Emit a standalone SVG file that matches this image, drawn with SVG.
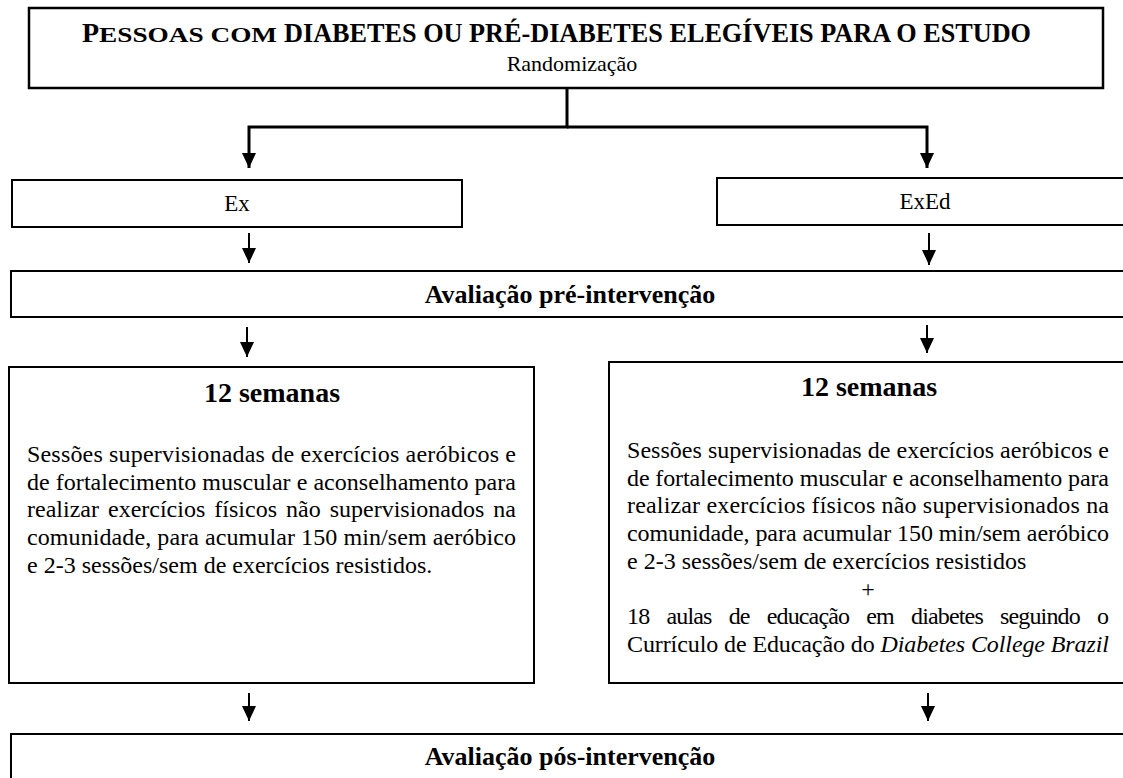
<svg xmlns="http://www.w3.org/2000/svg" width="1123" height="778" viewBox="0 0 1123 778">
<style>
.box{fill:#fff;stroke:#000;stroke-width:2}
.conn{fill:none;stroke:#000;stroke-width:2}
.thick{stroke-width:3}
</style>
<defs>
<marker id="ah" markerUnits="userSpaceOnUse" markerWidth="15" markerHeight="14" viewBox="0 0 15 14" refX="15" refY="7" orient="auto">
<path d="M0,0 L15,7 L0,14 z" fill="#000"/>
</marker>
</defs>
<rect width="1123" height="778" fill="#fff"/>

<g id="n-top">
<rect class="box" x="29" y="8" width="1074" height="80" style="stroke-width:2.5"/>
<text y="42" font-family="Liberation Serif, serif" font-weight="bold" fill="#000"><tspan x="82" font-size="28">P</tspan><tspan font-size="22" textLength="178" lengthAdjust="spacingAndGlyphs">ESSOAS COM</tspan><tspan x="284" font-size="28" textLength="747" lengthAdjust="spacingAndGlyphs">DIABETES OU PRÉ-DIABETES ELEGÍVEIS PARA O ESTUDO</tspan></text>
<text x="572" y="71" font-family="Liberation Serif, serif" font-size="22" text-anchor="middle" fill="#000">Randomização</text>
</g>

<g id="n-ex">
<rect class="box" x="12" y="180" width="450" height="47"/>
<text x="237" y="211" font-family="Liberation Serif, serif" font-size="23" text-anchor="middle" fill="#000">Ex</text>
</g>

<g id="n-exed">
<rect class="box" x="717" y="178" width="420" height="47"/>
<text x="925" y="209" font-family="Liberation Serif, serif" font-size="23" text-anchor="middle" fill="#000">ExEd</text>
</g>

<g id="n-pre">
<rect class="box" x="11" y="271" width="1125" height="46"/>
<text x="570" y="303" font-family="Liberation Serif, serif" font-size="26" font-weight="bold" text-anchor="middle" fill="#000">Avaliação pré-intervenção</text>
</g>

<g id="n-left" font-family="Liberation Serif, serif" fill="#000">
<rect class="box" x="9" y="367" width="525" height="316"/>
<text x="272" y="402" font-family="Liberation Serif, serif" font-size="28" font-weight="bold" text-anchor="middle">12 semanas</text>
<text font-family="Liberation Serif, serif" font-size="24" x="27" y="462" textLength="489" lengthAdjust="spacing">Sessões supervisionadas de exercícios aeróbicos e</text>
<text font-family="Liberation Serif, serif" font-size="24" x="27" y="489.7" textLength="489" lengthAdjust="spacing">de fortalecimento muscular e aconselhamento para</text>
<text font-family="Liberation Serif, serif" font-size="24" x="27" y="517.4" textLength="489" lengthAdjust="spacing" word-spacing="3">realizar exercícios físicos não supervisionados na</text>
<text font-family="Liberation Serif, serif" font-size="24" x="27" y="545.1" textLength="489" lengthAdjust="spacing">comunidade, para acumular 150 min/sem aeróbico</text>
<text font-family="Liberation Serif, serif" font-size="24" x="27" y="572.8">e 2-3 sessões/sem de exercícios resistidos.</text>
</g>

<g id="n-right" font-family="Liberation Serif, serif" fill="#000">
<rect class="box" x="609" y="362" width="530" height="321"/>
<text x="869" y="396" font-family="Liberation Serif, serif" font-size="28" font-weight="bold" text-anchor="middle">12 semanas</text>
<text font-family="Liberation Serif, serif" font-size="24" x="627" y="458" textLength="482" lengthAdjust="spacing">Sessões supervisionadas de exercícios aeróbicos e</text>
<text font-family="Liberation Serif, serif" font-size="24" x="627" y="485.7" textLength="482" lengthAdjust="spacing">de fortalecimento muscular e aconselhamento para</text>
<text font-family="Liberation Serif, serif" font-size="24" x="627" y="513.4" textLength="482" lengthAdjust="spacing">realizar exercícios físicos não supervisionados na</text>
<text font-family="Liberation Serif, serif" font-size="24" x="627" y="541.1" textLength="482" lengthAdjust="spacing">comunidade, para acumular 150 min/sem aeróbico</text>
<text font-family="Liberation Serif, serif" font-size="24" x="627" y="568.8">e 2-3 sessões/sem de exercícios resistidos</text>
<text font-family="Liberation Serif, serif" font-size="24" x="868" y="596.5" text-anchor="middle">+</text>
<text font-family="Liberation Serif, serif" font-size="24" x="627" y="624.2" word-spacing="12" textLength="482" lengthAdjust="spacing">18 aulas de educação em diabetes seguindo o</text>
<text font-family="Liberation Serif, serif" font-size="24" x="627" y="651.9" textLength="482" lengthAdjust="spacing">Currículo de Educação do <tspan font-style="italic">Diabetes College Brazil</tspan></text>
</g>

<g id="n-post">
<rect class="box" x="11" y="734" width="1125" height="60"/>
<text x="570" y="765" font-family="Liberation Serif, serif" font-size="26" font-weight="bold" text-anchor="middle" fill="#000">Avaliação pós-intervenção</text>
</g>

<g id="connectors">
<path class="conn thick" d="M567,88 V127 H249 V168" marker-end="url(#ah)"/>
<path class="conn thick" d="M567,127 H927 V168" marker-end="url(#ah)"/>
<path class="conn" d="M249,233 V263" marker-end="url(#ah)"/>
<path class="conn" d="M929,233 V265" marker-end="url(#ah)"/>
<path class="conn" d="M247,327 V357" marker-end="url(#ah)"/>
<path class="conn" d="M927,325 V353" marker-end="url(#ah)"/>
<path class="conn" d="M249,693 V721" marker-end="url(#ah)"/>
<path class="conn" d="M928,693 V721" marker-end="url(#ah)"/>
</g>
</svg>
